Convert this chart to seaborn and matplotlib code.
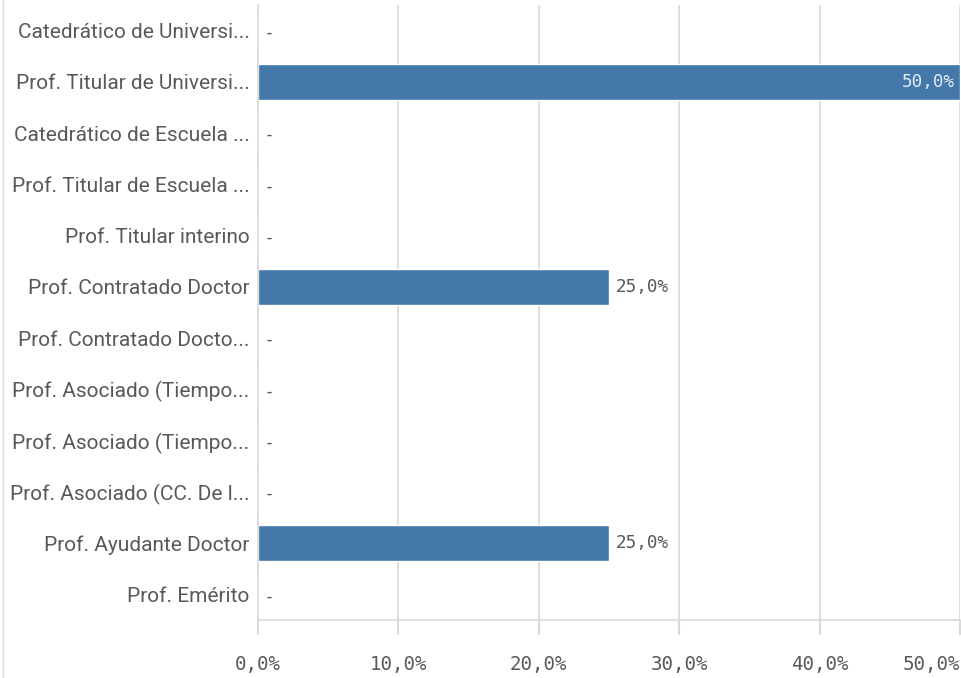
import numpy as np
import pandas as pd
import seaborn as sns
import matplotlib.pyplot as plt

categories = [
    "Catedrático de Universi...",
    "Prof. Titular de Universi...",
    "Catedrático de Escuela ...",
    "Prof. Titular de Escuela ...",
    "Prof. Titular interino",
    "Prof. Contratado Doctor",
    "Prof. Contratado Docto...",
    "Prof. Asociado (Tiempo...",
    "Prof. Asociado (Tiempo...",
    "Prof. Asociado (CC. De l...",
    "Prof. Ayudante Doctor",
    "Prof. Emérito",
]
values = [0, 50, 0, 0, 0, 25, 0, 0, 0, 0, 25, 0]
x_ticks = [0, 10, 20, 30, 40, 50]

df = pd.DataFrame({"cat": [f"{i}" for i in range(len(categories))], "val": values})

sns.set_theme(style="white")
plt.rcParams["font.family"] = ["Roboto", "DejaVu Sans"]

fig = plt.figure(figsize=(9.62, 6.78), dpi=100)
ax = fig.add_axes([258 / 962, 58 / 678, 702 / 962, 615 / 678])

sns.barplot(data=df, x="val", y="cat", orient="h", color="#4477aa",
            saturation=1, width=0.7, ax=ax)

ax.set_xlim(0, 50)
ax.set_ylim(len(categories) - 0.5, -0.5)
ax.set_xlabel("")
ax.set_ylabel("")
ax.set_yticks(range(len(categories)))
ax.set_yticklabels(categories, fontsize=15, color="#595959")
ax.set_xticks(x_ticks)
xlabels = ax.set_xticklabels([f"{t},0%" for t in x_ticks], fontsize=13.8,
                             color="#595959", family="DejaVu Sans Mono")
xlabels[-1].set_horizontalalignment("right")
ax.tick_params(axis="y", length=0, pad=6)
ax.tick_params(axis="x", bottom=True, length=11, width=1.5, color="#d9d9d9",
               pad=14)
ax.grid(axis="x", color="#d9d9d9", linewidth=1.2)
ax.set_axisbelow(True)
for s in ["top", "right"]:
    ax.spines[s].set_visible(False)
for s in ["left", "bottom"]:
    ax.spines[s].set_color("#d9d9d9")
    ax.spines[s].set_linewidth(1.2)

for i, v in enumerate(values):
    if v == 0:
        ax.text(0.6, i + 0.06, "-", va="center", ha="left", fontsize=13,
                color="#595959")
    elif v >= 45:
        ax.text(v - 0.35, i, f"{v},0%", va="center", ha="right", fontsize=12.7,
                color="#e4ebf3", family="DejaVu Sans Mono")
    else:
        ax.text(v + 0.5, i, f"{v},0%", va="center", ha="left", fontsize=12.7,
                color="#595959", family="DejaVu Sans Mono")

fig.add_artist(plt.Line2D([3 / 962, 3 / 962], [0, 1], color="#d9d9d9", lw=1))

fig.savefig("out.png", dpi=100)
